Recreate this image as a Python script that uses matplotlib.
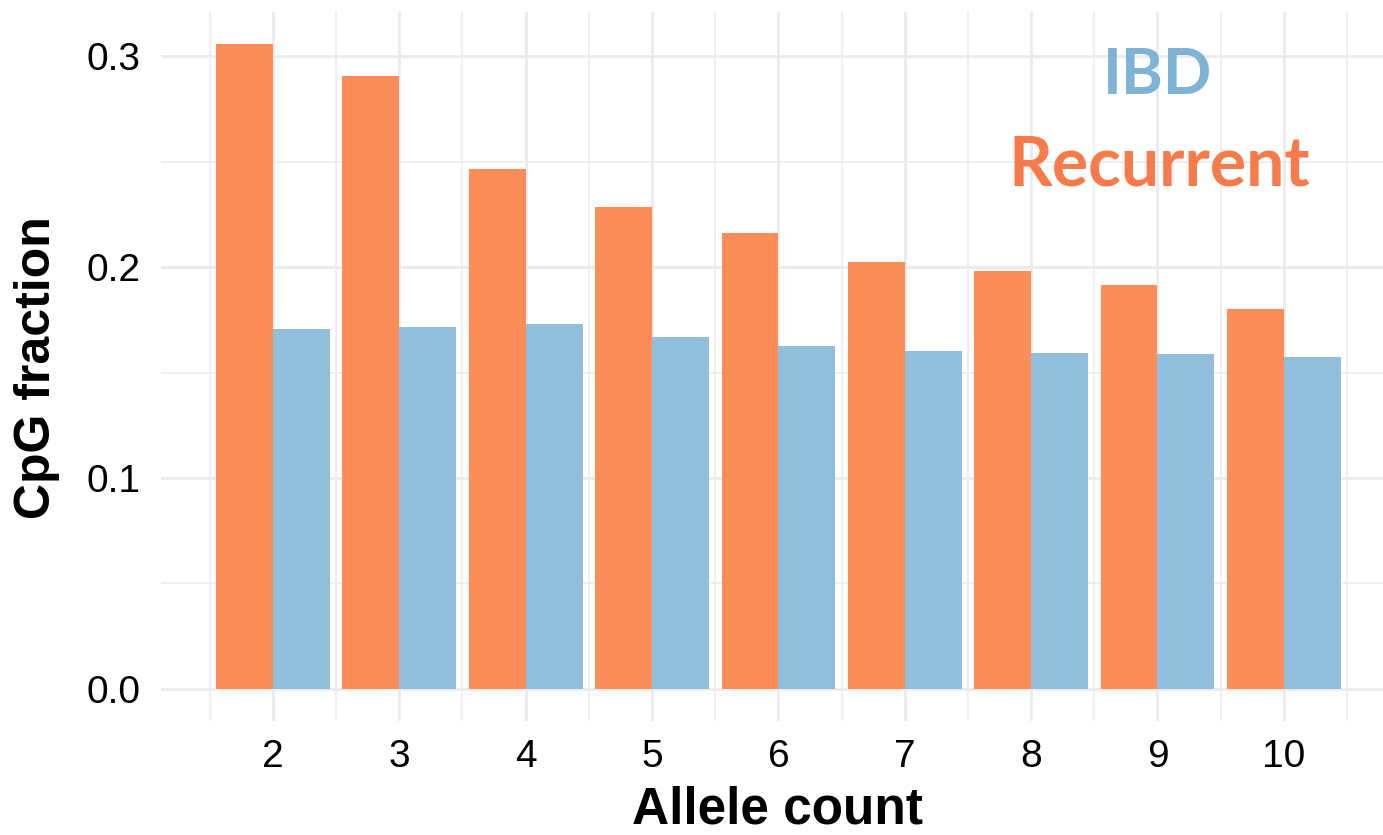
import matplotlib
matplotlib.use("Agg")
import matplotlib.pyplot as plt
import numpy as np

allele_count = [2, 3, 4, 5, 6, 7, 8, 9, 10]
recurrent = [0.3057, 0.2905, 0.2464, 0.2284, 0.2161, 0.2024, 0.1981, 0.1915, 0.1801]
ibd = [0.1706, 0.1716, 0.1730, 0.1668, 0.1626, 0.1602, 0.1592, 0.1588, 0.1573]
y_ticks = [0.0, 0.1, 0.2, 0.3]
y_ticklabels = ["0.0", "0.1", "0.2", "0.3"]

W, H = 1383, 835
fig = plt.figure(figsize=(W / 100, H / 100), dpi=100)
ax = fig.add_axes([161 / W, (H - 721) / H, (1383 - 161) / W, (721 - 12) / H])

x = np.array(allele_count, dtype=float)
bw = 0.45
ax.bar(x - bw / 2, recurrent, width=bw, color="#FC8D59", zorder=3, linewidth=0)
ax.bar(x + bw / 2, ibd, width=bw, color="#91BFDB", zorder=3, linewidth=0)

ax.set_xlim(1.114, 10.785)
ax.set_ylim(-0.0152, 0.3209)

ax.set_xticks(x)
ax.set_xticklabels([str(a) for a in allele_count])
ax.set_xticks(np.r_[x[0] - 0.5, x + 0.5], minor=True)
ax.set_yticks(y_ticks)
ax.set_yticklabels(y_ticklabels)
ax.set_yticks([0.05, 0.15, 0.25], minor=True)

ax.grid(which="major", color="#EBEBEB", linewidth=2.0, zorder=0)
ax.grid(which="minor", color="#EBEBEB", linewidth=1.1, zorder=0)
ax.set_axisbelow(True)

for s in ax.spines.values():
    s.set_visible(False)
ax.tick_params(which="both", length=0)
ax.tick_params(axis="x", pad=13, labelsize=28, labelcolor="black")
ax.tick_params(axis="y", pad=15, labelsize=28, labelcolor="black")
for lab in ax.get_xticklabels() + ax.get_yticklabels():
    lab.set_fontfamily("Liberation Sans")

fig.text(778 / W, 1 - 810 / H, "Allele count", ha="center", va="center",
         fontsize=37, fontweight="bold", family="Liberation Sans")
fig.text(37 / W, 1 - 368 / H, "CpG fraction", ha="center", va="center",
         rotation=90, fontsize=36, fontweight="bold", family="Liberation Sans")

fig.text(1158 / W, 1 - 76 / H, "IBD", ha="center", va="center",
         fontsize=46, fontweight="bold", family="Lato", color="#7FB3D5")
fig.text(1159 / W, 1 - 166 / H, "Recurrent", ha="center", va="center",
         fontsize=49, fontweight="bold", family="Lato", color="#F77B4A")

fig.savefig("out.png", dpi=100)
